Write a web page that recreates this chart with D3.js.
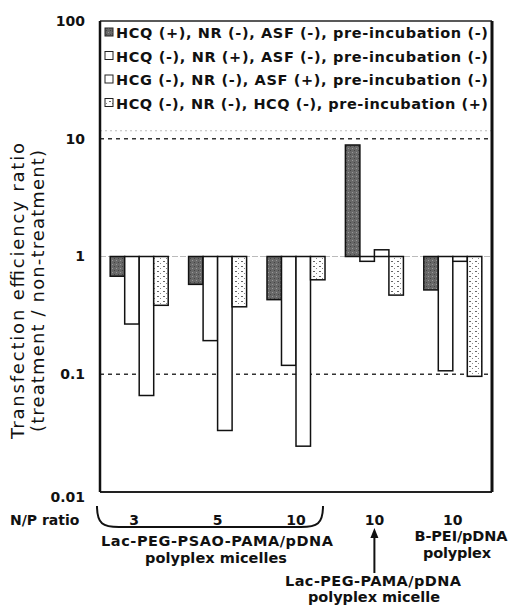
<!DOCTYPE html>
<html><head><meta charset="utf-8">
<script src="https://cdn.jsdelivr.net/npm/d3@7"></script>
<style>body{margin:0;background:#fff}svg{display:block}text{font-family:"DejaVu Sans",Verdana,sans-serif;fill:#111}</style>
</head><body><svg id="c" width="510" height="606"></svg>
<script>
const groups = ["3", "5", "10", "10", "10"];
const seriesNames = [
  "HCQ (+), NR (-), ASF (-), pre-incubation (-)",
  "HCQ (-), NR (+), ASF (-), pre-incubation (-)",
  "HCG (-), NR (-), ASF (+), pre-incubation (-)",
  "HCQ (-), NR (-), HCQ (-), pre-incubation (+)"
];
const hcqValues = [0.68, 0.58, 0.43, 8.85, 0.52];
const nrValues  = [0.267, 0.193, 0.119, 0.91, 0.107];
const asfValues = [0.066, 0.0333, 0.0245, 1.14, 0.91];
const preValues = [0.385, 0.374, 0.634, 0.47, 0.096];
const yTickValues = [100, 10, 1, 0.1, 0.01];
const yTickLabels = ["100", "10", "1", "0.1", "0.01"];
const dashedLevels = [10, 0.1];
const baseline = 1;

const svg = d3.select("#c");
const L = 100, R = 492, T = 21, B = 492;
const defs = svg.append("defs");
const p1 = defs.append("pattern").attr("id","dark").attr("width",4).attr("height",4).attr("patternUnits","userSpaceOnUse");
p1.append("rect").attr("width",4).attr("height",4).attr("fill","#686868");
p1.append("rect").attr("x",0).attr("y",0).attr("width",1).attr("height",1).attr("fill","#999");
p1.append("rect").attr("x",2).attr("y",2).attr("width",1).attr("height",1).attr("fill","#444");
const p2 = defs.append("pattern").attr("id","dots").attr("width",6).attr("height",5).attr("patternUnits","userSpaceOnUse");
p2.append("rect").attr("width",6).attr("height",5).attr("fill","#fff");
p2.append("rect").attr("x",1).attr("y",1).attr("width",2).attr("height",1).attr("fill","#666");
p2.append("rect").attr("x",4).attr("y",3).attr("width",1).attr("height",1).attr("fill","#888");
const fills = ["url(#dark)", "#fff", "#fff", "url(#dots)"];

const y = d3.scaleLog().domain([0.01, 100]).range([B, T]);
const x0 = d3.scaleBand().domain(d3.range(groups.length)).range([L, R]).paddingInner(0.26).paddingOuter(0.13);
const x1 = d3.scaleBand().domain(d3.range(4)).range([0, x0.bandwidth()]);

svg.append("line").attr("x1",L).attr("x2",R).attr("y1",y(baseline)).attr("y2",y(baseline))
  .attr("stroke","#bbb").attr("stroke-width",1).attr("stroke-dasharray","6,2");
svg.selectAll(".dl").data(dashedLevels).join("line")
  .attr("x1",L).attr("x2",R).attr("y1",d=>y(d)).attr("y2",d=>y(d))
  .attr("stroke","#333").attr("stroke-width",1.3).attr("stroke-dasharray","4,4");
svg.append("line").attr("x1",L).attr("x2",R).attr("y1",y(10)-8).attr("y2",y(10)-8)
  .attr("stroke","#bbb").attr("stroke-width",1).attr("stroke-dasharray","2,3");

const allSeries = [hcqValues, nrValues, asfValues, preValues];
allSeries.forEach((vals, si) => {
  svg.append("g").selectAll("rect").data(vals).join("rect")
    .attr("x", (d,i)=>x0(i)+x1(si))
    .attr("y", d=>Math.min(y(d), y(baseline)))
    .attr("width", x1.bandwidth())
    .attr("height", d=>Math.abs(y(d)-y(baseline)))
    .attr("fill", fills[si]).attr("stroke","#111").attr("stroke-width",1.5);
});

svg.append("line").attr("x1",L).attr("x2",R).attr("y1",T).attr("y2",T).attr("stroke","#222").attr("stroke-width",1.5);
svg.append("line").attr("x1",L).attr("x2",R).attr("y1",B).attr("y2",B).attr("stroke","#222").attr("stroke-width",2);
svg.append("line").attr("x1",L).attr("x2",L).attr("y1",T).attr("y2",B).attr("stroke","#111").attr("stroke-width",2.5);
svg.append("line").attr("x1",R).attr("x2",R).attr("y1",T).attr("y2",B).attr("stroke","#111").attr("stroke-width",3);

const yAxis = d3.axisLeft(y).tickValues(yTickValues).tickFormat((d,i)=>yTickLabels[i]).tickSize(0).tickPadding(15);
const ga = svg.append("g").attr("transform",`translate(${L},0)`).call(yAxis);
ga.select(".domain").remove();
ga.selectAll("text").attr("font-size",14).attr("font-weight","bold").attr("font-family","DejaVu Sans").attr("fill","#111");
ga.selectAll(".tick").filter(d=>d===0.01).select("text").attr("dy","0.7em");

const yt = svg.append("text").attr("transform",`translate(24,291) rotate(-90)`).attr("text-anchor","middle").attr("font-size",18);
yt.append("tspan").attr("x",0).attr("dy",0).attr("textLength",296).attr("lengthAdjust","spacing").text("Transfection efficiency ratio");
yt.append("tspan").attr("x",0).attr("dy",19.5).attr("textLength",282).attr("lengthAdjust","spacing").text("(treatment / non-treatment)");

const lg = svg.append("g");
seriesNames.forEach((s,i)=>{
  const ly = 33 + i*23.5;
  lg.append("rect").attr("x",105).attr("y",ly-5).attr("width",8).attr("height",8)
    .attr("fill", fills[i]).attr("stroke","#222").attr("stroke-width",1);
  lg.append("text").attr("x",116).attr("y",ly).attr("dy","0.35em").attr("font-size",14.5).attr("font-weight","bold")
    .attr("textLength",372).attr("lengthAdjust","spacing").text(s);
});

svg.append("text").attr("x",10).attr("y",520).attr("dy","0.35em").attr("font-size",14).attr("font-weight","bold").text("N/P ratio");
svg.selectAll(".gl").data(groups).join("text")
  .attr("x",(d,i)=>x0(i)+x0.bandwidth()/2 - (i===0?5:0)).attr("y",520).attr("dy","0.35em")
  .attr("text-anchor","middle").attr("font-size",14).attr("font-weight","bold").text(d=>d);
const bx0 = 97, bx1 = 323;
svg.append("path").attr("d",`M${bx0},506 C${bx0},524 ${bx0+6},527 ${bx0+22},527 L${bx1-22},527 C${bx1-6},527 ${bx1},524 ${bx1},506`)
  .attr("fill","none").attr("stroke","#111").attr("stroke-width",2);

function label(txt, cx, yy, w){
  svg.append("text").attr("x",cx).attr("y",yy).attr("text-anchor","middle").attr("font-size",14.5).attr("font-weight","bold")
    .attr("textLength",w).attr("lengthAdjust","spacing").text(txt);
}
label("Lac-PEG-PSAO-PAMA/pDNA", 217, 546, 232);
label("polyplex micelles", 216, 563, 142);
label("B-PEI/pDNA", 461, 541, 93);
label("polyplex", 457, 558, 68);
const ax = x0(3)+x0.bandwidth()/2;
svg.append("line").attr("x1",ax).attr("x2",ax).attr("y1",573).attr("y2",536).attr("stroke","#111").attr("stroke-width",2);
svg.append("path").attr("d",`M${ax-4},538 L${ax},528 L${ax+4},538 Z`).attr("fill","#111");
label("Lac-PEG-PAMA/pDNA", 373, 586, 176);
label("polyplex micelle", 374, 602, 132);
</script></body></html>
